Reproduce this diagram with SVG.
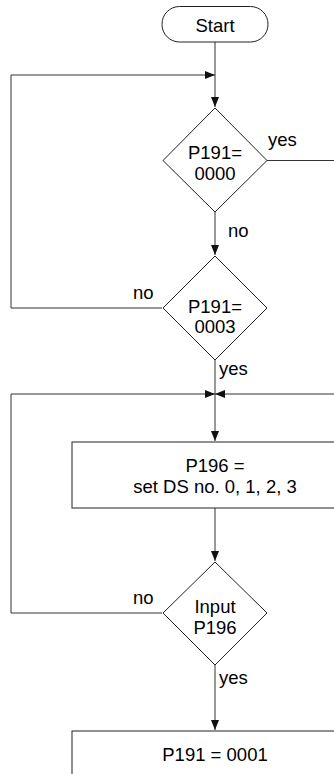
<svg xmlns="http://www.w3.org/2000/svg" width="334" height="774" viewBox="0 0 334 774">
<defs>
<style>
.s{fill:#fff;stroke:#222;stroke-width:1}
.c{fill:none;stroke:#333;stroke-width:1}
.t{font-family:"Liberation Sans",Arial,sans-serif;font-size:18.5px;fill:#000}
.m{text-anchor:middle}
</style>
<marker id="a" viewBox="0 0 10 8" refX="10" refY="4" markerWidth="10" markerHeight="8" markerUnits="userSpaceOnUse" orient="auto">
<path d="M0,0 L10,4 L0,8 Z" fill="#111"/>
</marker>
</defs>
<rect width="334" height="774" fill="#fff"/>
<g id="connectors">
<path class="c" d="M215,42 V107" marker-end="url(#a)"/>
<path class="c" d="M11,308 V75 H215" marker-end="url(#a)"/>
<path class="c" d="M215,212 V255" marker-end="url(#a)"/>
<path class="c" d="M267,160.5 H334"/>
<path class="c" d="M162,308 H11"/>
<path class="c" d="M215,360 V441" marker-end="url(#a)"/>
<path class="c" d="M11,613 V394 H215" marker-end="url(#a)"/>
<path class="c" d="M334,394 H215" marker-end="url(#a)"/>
<path class="c" d="M162,613 H11"/>
<path class="c" d="M215,508 V561" marker-end="url(#a)"/>
<path class="c" d="M215,665 V730" marker-end="url(#a)"/>
<text class="t" x="268" y="146">yes</text>
<text class="t" x="228" y="237">no</text>
<text class="t" x="133" y="299">no</text>
<text class="t" x="219" y="375">yes</text>
<text class="t" x="133" y="604">no</text>
<text class="t" x="219" y="684">yes</text>
</g>
<g id="start">
<rect class="s" x="162" y="6.5" width="106" height="35.5" rx="17.5"/>
<text class="t m" x="215" y="32">Start</text>
</g>
<g id="dec1">
<path class="s" d="M215,108 L267,160.5 L215,212 L163,160.5 Z"/>
<text class="t m" x="215" y="159">P191=</text>
<text class="t m" x="215" y="180">0000</text>
</g>
<g id="dec2">
<path class="s" d="M215,256 L267,308 L215,360 L163,308 Z"/>
<text class="t m" x="215" y="313">P191=</text>
<text class="t m" x="215" y="333">0003</text>
</g>
<g id="box1">
<rect class="s" x="72" y="442" width="290" height="66"/>
<text class="t m" x="215" y="472">P196 =</text>
<text class="t m" x="215" y="493">set DS no. 0, 1, 2, 3</text>
</g>
<g id="dec3">
<path class="s" d="M215,562 L267,613 L215,665 L163,613 Z"/>
<text class="t m" x="215" y="613">Input</text>
<text class="t m" x="215" y="634">P196</text>
</g>
<g id="box2">
<rect class="s" x="72" y="731" width="290" height="60"/>
<text class="t m" x="215" y="761">P191 = 0001</text>
</g>
</svg>
